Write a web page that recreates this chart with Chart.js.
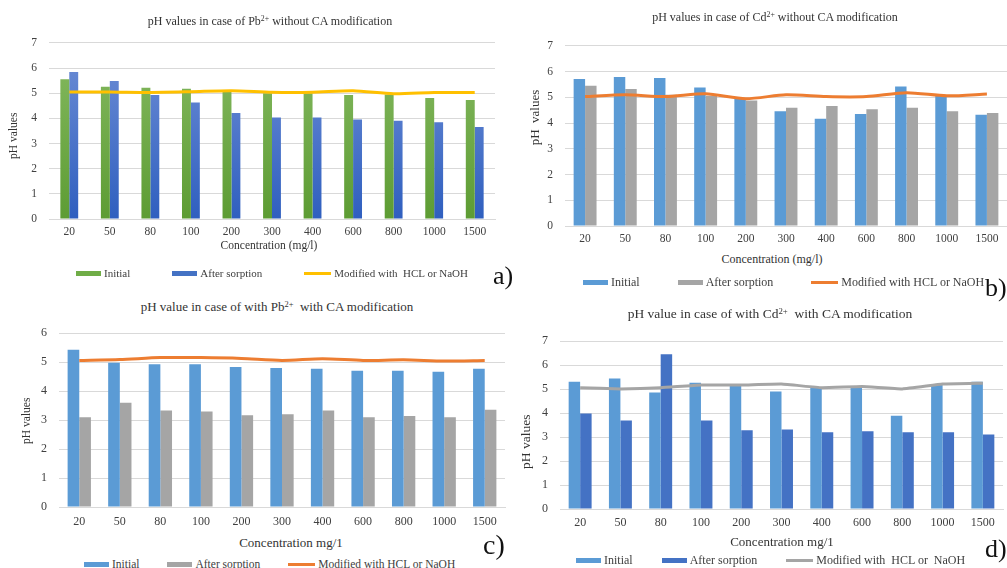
<!DOCTYPE html>
<html>
<head>
<meta charset="utf-8">
<script src="https://cdn.jsdelivr.net/npm/chart.js@4.4.1/dist/chart.umd.min.js"></script>
<style>
  html, body { margin: 0; padding: 0; background: #fff; }
  #figure { position: relative; width: 1007px; height: 568px; overflow: hidden; background: #fff;
            font-family: "Liberation Serif", "Times New Roman", serif; }
  .panel { position: absolute; }
  .panel canvas { display: block; }
  .heading, .axis-title { position: absolute; text-align: center; white-space: pre; line-height: 1; color: #333; }
  .heading sup { font-size: 65%; line-height: 0; vertical-align: 0.5em; }
  .axis-title.vertical { transform: rotate(-90deg); transform-origin: 50% 50%; }
  .tag { position: absolute; line-height: 1; color: #111; white-space: pre; }
  .legend { position: absolute; display: flex; align-items: center; line-height: 1; color: #404040; white-space: pre; }
  .legend .entry { display: flex; align-items: center; }
  .legend .swatch { display: inline-block; margin-right: 3px; }
  .legend .swatch.bar { width: 25px; height: 5px; }
  .legend .swatch.line { width: 27px; height: 3px; }
</style>
</head>
<body>
<div id="figure">
  <div class="panel" style="left:0px;top:24px"><canvas id="chartA" width="505" height="219"></canvas></div>
  <div class="panel" style="left:515px;top:27px"><canvas id="chartB" width="492" height="223"></canvas></div>
  <div class="panel" style="left:0px;top:314px"><canvas id="chartC" width="510" height="217"></canvas></div>
  <div class="panel" style="left:505px;top:322px"><canvas id="chartD" width="502" height="211"></canvas></div>

  <div class="heading" style="left:20px;top:15px;width:500px;font-size:12px">pH values in case of Pb<sup>2+</sup> without CA modification</div>
  <div class="heading" style="left:525px;top:11px;width:500px;font-size:12px">pH values in case of Cd<sup>2+</sup> without CA modification</div>
  <div class="heading" style="left:27px;top:300px;width:500px;font-size:13px">pH value in case of with Pb<sup>2+</sup>  with CA modification</div>
  <div class="heading" style="left:520px;top:307px;width:500px;font-size:13.5px">pH value in case of with Cd<sup>2+</sup>  with CA modification</div>

  <div class="axis-title" style="left:169px;top:240px;width:200px;font-size:11.5px">Concentration (mg/l)</div>
  <div class="axis-title" style="left:672px;top:253px;width:200px;font-size:12px">Concentration (mg/l)</div>
  <div class="axis-title" style="left:191px;top:536px;width:200px;font-size:13px">Concentration mg/1</div>
  <div class="axis-title" style="left:682px;top:535px;width:200px;font-size:13px">Concentration mg/1</div>

  <div class="axis-title vertical" style="left:-36px;top:130px;width:100px;height:11.5px;font-size:11.5px">pH values</div>
  <div class="axis-title vertical" style="left:484px;top:111px;width:100px;height:13px;font-size:13px">pH  values</div>
  <div class="axis-title vertical" style="left:-23px;top:415px;width:100px;height:11.5px;font-size:11.5px">pH values</div>
  <div class="axis-title vertical" style="left:476px;top:435px;width:100px;height:13.5px;font-size:13.5px">pH values</div>

  <div class="legend" id="legendA" style="left:76px;top:267.5px;font-size:11px"></div>
  <div class="legend" id="legendB" style="left:583px;top:276px;font-size:12px"></div>
  <div class="legend" id="legendC" style="left:84px;top:559px;font-size:11.5px"></div>
  <div class="legend" id="legendD" style="left:576px;top:554px;font-size:12px"></div>

  <div class="tag" style="left:493px;top:263px;font-size:26px">a)</div>
  <div class="tag" style="left:985px;top:275px;font-size:26px">b)</div>
  <div class="tag" style="left:483px;top:531px;font-size:28px">c)</div>
  <div class="tag" style="left:985px;top:536px;font-size:26px">d)</div>
</div>

<script>
// Initial concentrations of the metal solutions (mg/l)
const concentrations = ['20', '50', '80', '100', '200', '300', '400', '600', '800', '1000', '1500'];

// a) Pb2+ without CA modification
const pbInitial  = [5.56, 5.26, 5.22, 5.18, 5.08, 5.00, 5.00, 4.93, 4.95, 4.81, 4.73];
const pbAfter    = [5.84, 5.49, 4.93, 4.63, 4.21, 4.03, 4.03, 3.96, 3.91, 3.85, 3.66];
const pbModified = [5.05, 5.05, 5.03, 5.06, 5.10, 5.04, 5.04, 5.10, 4.98, 5.03, 5.03];

// b) Cd2+ without CA modification
const cdInitial  = [5.71, 5.79, 5.75, 5.38, 4.95, 4.46, 4.17, 4.35, 5.42, 5.09, 4.32];
const cdAfter    = [5.45, 5.32, 5.10, 5.06, 4.88, 4.60, 4.66, 4.54, 4.60, 4.46, 4.39];
const cdModified = [5.03, 5.10, 5.03, 5.14, 4.95, 5.10, 5.03, 5.03, 5.18, 5.06, 5.13];

// c) Pb2+ with CA modification
const pbCaInitial  = [5.43, 4.98, 4.93, 4.93, 4.83, 4.80, 4.77, 4.70, 4.70, 4.67, 4.77];
const pbCaAfter    = [3.10, 3.60, 3.33, 3.30, 3.17, 3.20, 3.33, 3.10, 3.14, 3.10, 3.36];
const pbCaModified = [5.06, 5.09, 5.16, 5.16, 5.13, 5.06, 5.12, 5.06, 5.08, 5.04, 5.06];

// d) Cd2+ with CA modification
const cdCaInitial  = [5.31, 5.44, 4.86, 5.27, 5.19, 4.90, 5.09, 5.11, 3.89, 5.19, 5.31];
const cdCaAfter    = [3.98, 3.69, 6.46, 3.69, 3.28, 3.32, 3.20, 3.24, 3.20, 3.20, 3.11];
const cdCaModified = [5.06, 5.01, 5.06, 5.17, 5.17, 5.21, 5.06, 5.11, 5.01, 5.21, 5.25];

// Legend names per panel
const seriesNamesA = ['Initial', 'After sorption', 'Modified with  HCL or NaOH'];
const seriesNamesB = ['Initial', 'After sorption', 'Modified with HCL or NaOH'];
const seriesNamesC = ['Initial', 'After sorption', 'Modified with HCL or NaOH'];
const seriesNamesD = ['Initial', 'After sorption', 'Modified with  HCL or  NaOH'];

const SERIF = '"Liberation Serif", "Times New Roman", serif';
const GRID = '#d9d9d9';
const TEXT = '#404040';

// Vertical fill running across the plot height (light at the top, darker at the base)
function verticalGradient(topColor, bottomColor) {
  return (ctx) => {
    const area = ctx.chart.chartArea;
    if (!area) return bottomColor;
    const g = ctx.chart.ctx.createLinearGradient(0, area.top, 0, area.bottom);
    g.addColorStop(0, topColor);
    g.addColorStop(1, bottomColor);
    return g;
  };
}

// Legend rendered as HTML below each chart, built from the chart's datasets
const htmlLegend = {
  id: 'htmlLegend',
  afterUpdate(chart, args, opts) {
    const box = document.getElementById(opts.containerId);
    if (!box) return;
    box.innerHTML = '';
    chart.data.datasets.forEach((ds, i) => {
      const entry = document.createElement('span');
      entry.className = 'entry';
      if (i < chart.data.datasets.length - 1) entry.style.marginRight = opts.gap + 'px';
      const swatch = document.createElement('span');
      const isLine = ds.type === 'line';
      swatch.className = 'swatch ' + (isLine ? 'line' : 'bar');
      swatch.style.background = isLine ? ds.borderColor : ds.swatchColor;
      const text = document.createElement('span');
      text.textContent = ds.label;
      entry.appendChild(swatch);
      entry.appendChild(text);
      box.appendChild(entry);
    });
  }
};

function drawPanel(canvasId, p) {
  return new Chart(document.getElementById(canvasId), {
    data: {
      labels: concentrations,
      datasets: [
        { type: 'bar', label: p.names[0], data: p.initial, backgroundColor: p.initialFill,
          swatchColor: p.initialColor, borderWidth: 0, categoryPercentage: p.groupWidth, barPercentage: 1 },
        { type: 'bar', label: p.names[1], data: p.after, backgroundColor: p.afterFill,
          swatchColor: p.afterColor, borderWidth: 0, categoryPercentage: p.groupWidth, barPercentage: 1 },
        { type: 'line', label: p.names[2], data: p.modified, borderColor: p.lineColor,
          backgroundColor: p.lineColor, borderWidth: 3, pointRadius: 0, pointHoverRadius: 0,
          tension: p.tension, order: -1 }
      ]
    },
    plugins: [htmlLegend],
    options: {
      responsive: false,
      animation: false,
      devicePixelRatio: 1,
      layout: { padding: { top: 10, left: 0, right: p.padRight, bottom: 0 } },
      plugins: {
        title: { display: false },
        tooltip: { enabled: false },
        legend: { display: false },
        htmlLegend: { containerId: p.legendId, gap: p.legendGap }
      },
      scales: {
        x: {
          grid: { display: false, drawTicks: false },
          border: { display: true, color: GRID, width: 1 },
          ticks: { font: { family: SERIF, size: p.tickSize }, color: TEXT, padding: p.xTickPad, maxRotation: 0 },
          afterFit: (s) => { s.height = 24; }
        },
        y: {
          min: 0,
          max: p.yMax,
          grid: { color: GRID, lineWidth: 1, drawTicks: false },
          border: { display: false },
          ticks: { stepSize: 1, font: { family: SERIF, size: p.tickSize }, color: TEXT, padding: 12 },
          afterFit: (s) => { s.width = p.yAxisWidth; }
        }
      }
    }
  });
}

drawPanel('chartA', {
  names: seriesNamesA, initial: pbInitial, after: pbAfter, modified: pbModified,
  initialFill: verticalGradient('#86ba62', '#5d9c33'), initialColor: '#70ad47',
  afterFill: verticalGradient('#6f8fd6', '#2f5fbf'), afterColor: '#4472c4',
  lineColor: '#ffc000', tension: 0.25, groupWidth: 0.44, yMax: 7,
  padRight: 10, yAxisWidth: 49, xTickPad: 6, tickSize: 11.5,
  legendId: 'legendA', legendGap: 42
});

drawPanel('chartB', {
  names: seriesNamesB, initial: cdInitial, after: cdAfter, modified: cdModified,
  initialFill: '#5b9bd5', initialColor: '#5b9bd5',
  afterFill: '#a5a5a5', afterColor: '#a5a5a5',
  lineColor: '#ed7d31', tension: 0.25, groupWidth: 0.57, yMax: 7,
  padRight: 0, yAxisWidth: 50, xTickPad: 6, tickSize: 11.5,
  legendId: 'legendB', legendGap: 38
});

drawPanel('chartC', {
  names: seriesNamesC, initial: pbCaInitial, after: pbCaAfter, modified: pbCaModified,
  initialFill: '#5b9bd5', initialColor: '#5b9bd5',
  afterFill: '#a5a5a5', afterColor: '#a5a5a5',
  lineColor: '#ed7d31', tension: 0.25, groupWidth: 0.575, yMax: 6,
  padRight: 5, yAxisWidth: 59, xTickPad: 8, tickSize: 12,
  legendId: 'legendC', legendGap: 28
});

drawPanel('chartD', {
  names: seriesNamesD, initial: cdCaInitial, after: cdCaAfter, modified: cdCaModified,
  initialFill: '#5b9bd5', initialColor: '#5b9bd5',
  afterFill: '#4472c4', afterColor: '#4472c4',
  lineColor: '#a5a5a5', tension: 0.1, groupWidth: 0.57, yMax: 7,
  padRight: 4, yAxisWidth: 55, xTickPad: 7, tickSize: 12,
  legendId: 'legendD', legendGap: 29
});
</script>
</body>
</html>
